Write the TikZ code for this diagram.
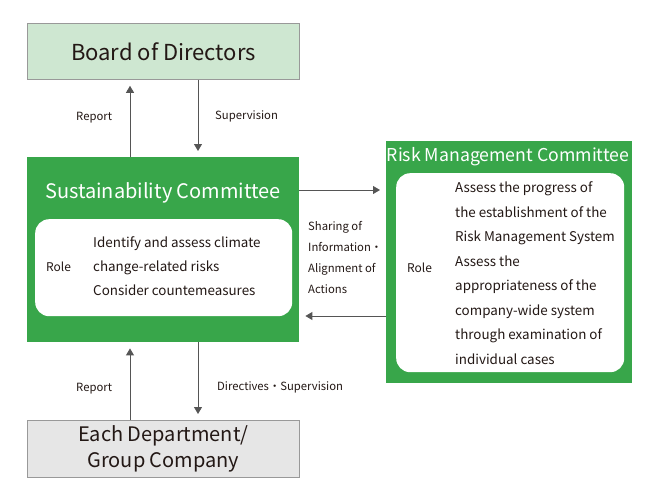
\documentclass[tikz,border=0pt]{standalone}
\usepackage{fontspec}
\setmainfont{Noto Sans CJK JP}
\usetikzlibrary{arrows.meta}

\definecolor{boardgreen}{RGB}{206,231,209}
\definecolor{comgreen}{RGB}{56,166,74}
\definecolor{deptgray}{RGB}{230,230,230}
\definecolor{linegray}{RGB}{85,85,85}
\definecolor{inkdark}{RGB}{35,24,21}

\begin{document}
\begin{tikzpicture}[x=1pt,y=-1pt,
	topbox/.style={draw=black!40, line width=0.8pt, minimum width=272, anchor=north west, inner sep=0pt, text=inkdark},
	combox/.style={fill=comgreen, anchor=north west, inner sep=0pt},
	rolebox/.style={fill=white, rounded corners=14pt, anchor=north west, inner sep=0pt},
	comtitle/.style={text=white, inner sep=0pt},
	flow/.style={draw=linegray, line width=0.9pt, -{Triangle[width=8pt,length=7pt]}, shorten >=6pt},
	lbl/.style={font=\fontsize{11.3}{14}\selectfont, anchor=base west, inner sep=0pt, text=inkdark},
	body/.style={font=\fontsize{13.4}{24}\selectfont, anchor=base west, inner sep=0pt, text=inkdark}
]
	%Page of 650 x 500
	\useasboundingbox (0,0) rectangle (650,500);

	%Columns of the vertical arrows, rows of the horizontal ones
	\pgfmathsetmacro{\xrep}{130}
	\pgfmathsetmacro{\xsup}{198}
	\pgfmathsetmacro{\yshare}{190}
	\pgfmathsetmacro{\yalign}{316}
	\coordinate (xrep) at (\xrep,0);
	\coordinate (xsup) at (\xsup,0);
	\coordinate (yshare) at (0,\yshare);
	\coordinate (yalign) at (0,\yalign);

	%Board of Directors
	\node[topbox, fill=boardgreen, minimum height=56, font=\fontsize{22}{26}\selectfont] (board) at (27,23) {Board of Directors};

	%Sustainability Committee
	\node[combox, minimum width=272, minimum height=185] (sus) at (27,157) {};
	\node[comtitle, font=\fontsize{20}{24}\selectfont] (sustitle) at (163,193) {Sustainability Committee};
	\node[rolebox, minimum width=257, minimum height=97] (susrole) at (35,219) {};
	\node[lbl, font=\fontsize{12}{14}\selectfont] (susrolelbl) at (46,271.5) {Role};
	\foreach \txt [count=\i] in {Identify and assess climate, change-related risks, Consider countemeasures}
		\node[body] (sus\i) at (93,{247.5+24.2*(\i-1)}) {\txt};

	%Risk Management Committee
	\node[combox, minimum width=246, minimum height=242] (risk) at (386,141) {};
	\node[comtitle, font=\fontsize{17.7}{24}\selectfont] (risktitle) at (508,157) {Risk Management Committee};
	\node[rolebox, minimum width=228, minimum height=199] (riskrole) at (396,173) {};
	\node[lbl, font=\fontsize{12}{14}\selectfont] (riskrolelbl) at (407,272.5) {Role};
	\foreach \txt [count=\i] in {Assess the progress of, the establishment of the, Risk Management System, Assess the, appropriateness of the, company-wide system, through examination of, individual cases}
		\node[body] (risk\i) at (455,{192.5+24.5*(\i-1)}) {\txt};

	%Each Department / Group Company
	\node[topbox, fill=deptgray, minimum height=57, align=center, font=\fontsize{20}{26.3}\selectfont] (dept) at (27,420) {Each Department/\\Group Company};

	%Arrows between board and committee
	\draw[flow] (xrep |- sus.north) -- (xrep |- board.south);
	\draw[flow] (xsup |- board.south) -- (xsup |- sus.north);
	\node[lbl] (rep1) at (76,121) {Report};
	\node[lbl] (sup1) at (215,120) {Supervision};

	%Arrows between committee and departments
	\draw[flow] (xrep |- dept.north) -- (xrep |- sus.south);
	\draw[flow] (xsup |- sus.south) -- (xsup |- dept.north);
	\node[lbl] (rep2) at (76,391) {Report};
	\node[lbl] (sup2) at (217,390) {Directives・Supervision};

	%Arrows between the two committees
	\draw[flow] (sus.east |- yshare) -- (risk.west |- yshare);
	\draw[flow] (risk.west |- yalign) -- (sus.east |- yalign);
	\foreach \txt [count=\i] in {Sharing of, Information・, Alignment of, Actions}
		\node[lbl] (share\i) at (308,{230+21*(\i-1)}) {\txt};

\end{tikzpicture}
\end{document}
